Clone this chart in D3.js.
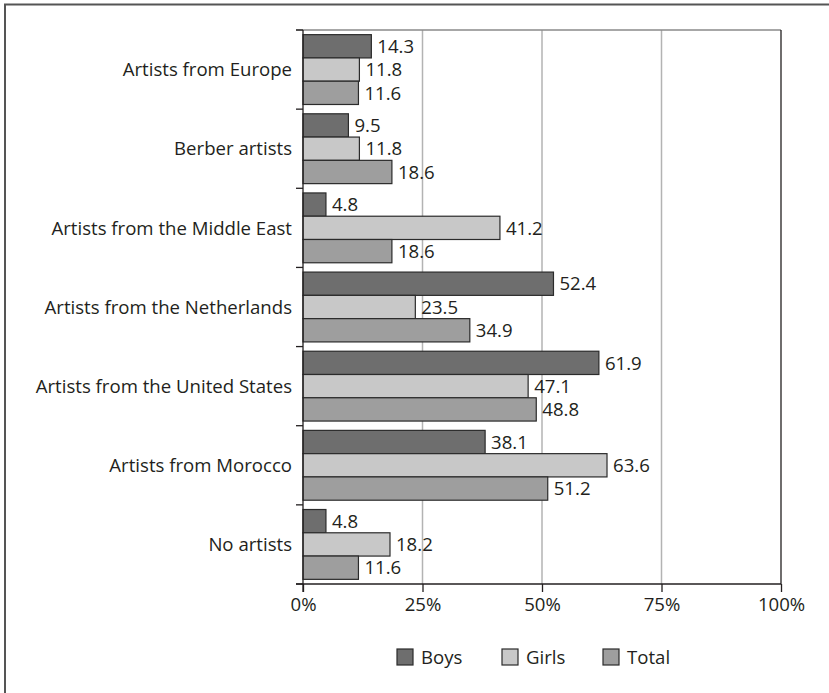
<!DOCTYPE html>
<html>
<head>
<meta charset="utf-8">
<script src="https://cdn.jsdelivr.net/npm/d3@7"></script>
<style>
  html, body { margin: 0; padding: 0; background: #fff; }
  svg { display: block; }
  text { font-family: "Open Sans", "Noto Sans", sans-serif; fill: #231f20; }
</style>
</head>
<body>
<svg id="chart" width="829" height="693"></svg>
<script>
const categories = [
  "Artists from Europe",
  "Berber artists",
  "Artists from the Middle East",
  "Artists from the Netherlands",
  "Artists from the United States",
  "Artists from Morocco",
  "No artists"
];
const seriesNames = ["Boys", "Girls", "Total"];
const boys  = [14.3, 9.5, 4.8, 52.4, 61.9, 38.1, 4.8];
const girls = [11.8, 11.8, 41.2, 23.5, 47.1, 63.6, 18.2];
const total = [11.6, 18.6, 18.6, 34.9, 48.8, 51.2, 11.6];
const xTicks = [0, 25, 50, 75, 100];
const colors = ["#6e6e6e", "#c8c8c8", "#9e9e9e"];

(function () {
const seriesValues = [boys, girls, total];
const svg = d3.select("#chart");
const FS = 18.6;

const pL = 303, pR = 781, pT = 30, pB = 584;
const x = d3.scaleLinear().domain([0, 100]).range([pL, pR]);
const y0 = d3.scaleBand().domain(categories).range([pT, pB]).padding(0);
const y1 = d3.scaleBand().domain(seriesNames).range([0, y0.bandwidth()]).paddingInner(0).paddingOuter(0.2);

// outer frame (top and left)
svg.append("line").attr("x1", 4).attr("x2", 829).attr("y1", 4.5).attr("y2", 4.5)
  .attr("stroke", "#555").attr("stroke-width", 2);
svg.append("line").attr("x1", 5).attr("x2", 5).attr("y1", 4).attr("y2", 693)
  .attr("stroke", "#555").attr("stroke-width", 2);

// gridlines
svg.append("g").selectAll("line").data(xTicks.filter(t => t > 0 && t < 100)).join("line")
  .attr("x1", d => x(d)).attr("x2", d => x(d))
  .attr("y1", pT).attr("y2", pB)
  .attr("stroke", "#b3b3b3").attr("stroke-width", 1.5);

// top border (gray)
svg.append("line").attr("x1", pL - 7).attr("x2", pR).attr("y1", pT).attr("y2", pT)
  .attr("stroke", "#8a8a8a").attr("stroke-width", 1.5);
// right border
svg.append("line").attr("x1", pR).attr("x2", pR).attr("y1", pT).attr("y2", pB)
  .attr("stroke", "#231f20").attr("stroke-width", 1.3);

// bars
const groups = svg.append("g").selectAll("g").data(categories).join("g")
  .attr("transform", d => `translate(0,${y0(d)})`);

groups.each(function(cat, ci) {
  const g = d3.select(this);
  seriesNames.forEach((s, si) => {
    const v = seriesValues[si][ci];
    g.append("rect")
      .attr("x", x(0))
      .attr("y", y1(s))
      .attr("width", x(v) - x(0))
      .attr("height", y1.bandwidth())
      .attr("fill", colors[si])
      .attr("stroke", "#2b2b2b")
      .attr("stroke-width", 1.2);
    g.append("text")
      .attr("x", x(v) + 6)
      .attr("y", y1(s) + y1.bandwidth() / 2)
      .attr("dy", "0.36em")
      .attr("font-size", FS)
      .text(v.toFixed(1));
  });
});

// category labels
svg.append("g").selectAll("text").data(categories).join("text")
  .attr("x", pL - 11)
  .attr("y", d => y0(d) + y0.bandwidth() / 2)
  .attr("dy", "0.36em")
  .attr("text-anchor", "end")
  .attr("font-size", FS)
  .text(d => d);

// category boundary ticks
const bounds = categories.map(c => y0(c)).concat([pB]);
svg.append("g").selectAll("line").data(bounds).join("line")
  .attr("x1", pL - 7).attr("x2", pL)
  .attr("y1", d => d).attr("y2", d => d)
  .attr("stroke", "#231f20").attr("stroke-width", 1.3);

// x axis
const xAxis = d3.axisBottom(x).tickValues(xTicks).tickFormat(d => d + "%").tickSize(8).tickPadding(6);
const ax = svg.append("g").attr("transform", `translate(0,${pB})`).call(xAxis);
ax.select(".domain").remove();
ax.selectAll(".tick line").attr("stroke", "#231f20").attr("stroke-width", 1.3);
ax.selectAll(".tick text").attr("font-size", FS).attr("fill", "#231f20")
  .attr("font-family", "Open Sans, Noto Sans, sans-serif");
svg.append("line").attr("x1", pL - 7).attr("x2", pR).attr("y1", pB).attr("y2", pB)
  .attr("stroke", "#231f20").attr("stroke-width", 1.3);
// y axis line
svg.append("line").attr("x1", pL).attr("x2", pL).attr("y1", pT).attr("y2", pB + 8)
  .attr("stroke", "#231f20").attr("stroke-width", 1.3);

// legend
const legendX = [397, 502, 603];
const legend = svg.append("g").selectAll("g").data(seriesNames).join("g")
  .attr("transform", (d, i) => `translate(${legendX[i]},649)`);
legend.append("rect").attr("width", 16).attr("height", 16)
  .attr("fill", (d, i) => colors[i]).attr("stroke", "#2b2b2b").attr("stroke-width", 1.2);
legend.append("text").attr("x", 24).attr("y", 8).attr("dy", "0.36em")
  .attr("font-size", FS).text(d => d);
})();
</script>
</body>
</html>
